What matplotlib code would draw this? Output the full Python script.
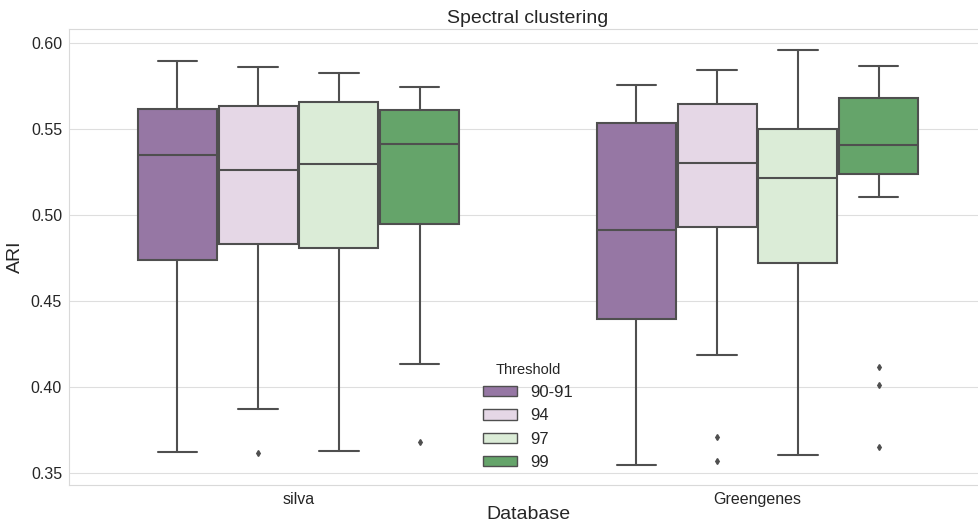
import colorsys
import matplotlib
matplotlib.use("Agg")
import matplotlib.pyplot as plt
import seaborn as sns

# box statistics per database and threshold (ARI)
databases = ["silva", "Greengenes"]
thresholds = ["90-91", "94", "97", "99"]

whislo = [[0.3622, 0.3872, 0.3626, 0.4130],
          [0.3543, 0.4184, 0.3605, 0.5105]]
q1 = [[0.4738, 0.4831, 0.4808, 0.4944],
      [0.4394, 0.4929, 0.4719, 0.5235]]
med = [[0.5345, 0.5258, 0.5297, 0.5413],
       [0.4913, 0.5301, 0.5212, 0.5403]]
q3 = [[0.5616, 0.5630, 0.5657, 0.5607],
      [0.5535, 0.5644, 0.5496, 0.5679]]
whishi = [[0.5892, 0.5860, 0.5826, 0.5741],
          [0.5754, 0.5843, 0.5958, 0.5865]]
fliers = [[[], [0.3616], [], [0.3679]],
          [[], [0.3709, 0.3568], [], [0.4113, 0.4008, 0.3648]]]

sns.set_style("whitegrid", {"grid.color": ".87", "axes.edgecolor": ".85"})
plt.rcParams["font.family"] = ["Liberation Sans", "DejaVu Sans"]

# palette desaturated the way seaborn does for boxes
pal = sns.color_palette("PRGn", len(thresholds), desat=0.75)
lum = min(colorsys.rgb_to_hls(*c)[1] for c in pal) * 0.6
gray = (lum, lum, lum)

fig = plt.figure(figsize=(9.79, 5.27), dpi=100)
ax = fig.add_axes([69 / 979, 42 / 527, 918 / 979, 456 / 527])

group_w = 0.704
step = group_w / len(thresholds)
box_w = step * 0.98

for i, db in enumerate(databases):
    for j, th in enumerate(thresholds):
        stats = [dict(whislo=whislo[i][j], q1=q1[i][j], med=med[i][j],
                      q3=q3[i][j], whishi=whishi[i][j], fliers=fliers[i][j])]
        pos = i - group_w / 2 + step * (j + 0.5)
        ax.bxp(stats, positions=[pos], widths=box_w, patch_artist=True,
               showfliers=True, manage_ticks=False,
               boxprops=dict(facecolor=pal[j], edgecolor=gray, linewidth=1.5),
               medianprops=dict(color=gray, linewidth=1.5),
               whiskerprops=dict(color=gray, linewidth=1.5),
               capprops=dict(color=gray, linewidth=1.5),
               flierprops=dict(marker="d", markersize=3, markerfacecolor=gray,
                               markeredgecolor=gray))

ax.set_xlim(-0.5, 1.5)
ax.set_ylim(0.34285, 0.60797)
ax.set_xticks(range(len(databases)))
ax.set_xticklabels(databases)
ax.set_yticks([0.35, 0.40, 0.45, 0.50, 0.55, 0.60])
ax.set_yticklabels(["0.35", "0.40", "0.45", "0.50", "0.55", "0.60"])
ax.tick_params(axis="both", labelsize=11.5, colors="#262626", length=0, pad=5)
ax.xaxis.grid(False)
ax.set_axisbelow(True)

ax.set_title("Spectral clustering", fontsize=14, pad=4, color="#262626")
ax.set_xlabel("Database", fontsize=14, color="#262626", labelpad=-1)
ax.set_ylabel("ARI", fontsize=14, color="#262626", labelpad=5)

handles = [plt.Rectangle((0, 0), 1, 1, facecolor=pal[j], edgecolor=gray,
                         linewidth=1.0) for j in range(len(thresholds))]
leg = ax.legend(handles, thresholds, title="Threshold", loc="lower center",
                fontsize=12, title_fontsize=10.5, frameon=False,
                handlelength=2.0, handleheight=0.6, labelspacing=0.5)

fig.savefig("out.png", dpi=100)
